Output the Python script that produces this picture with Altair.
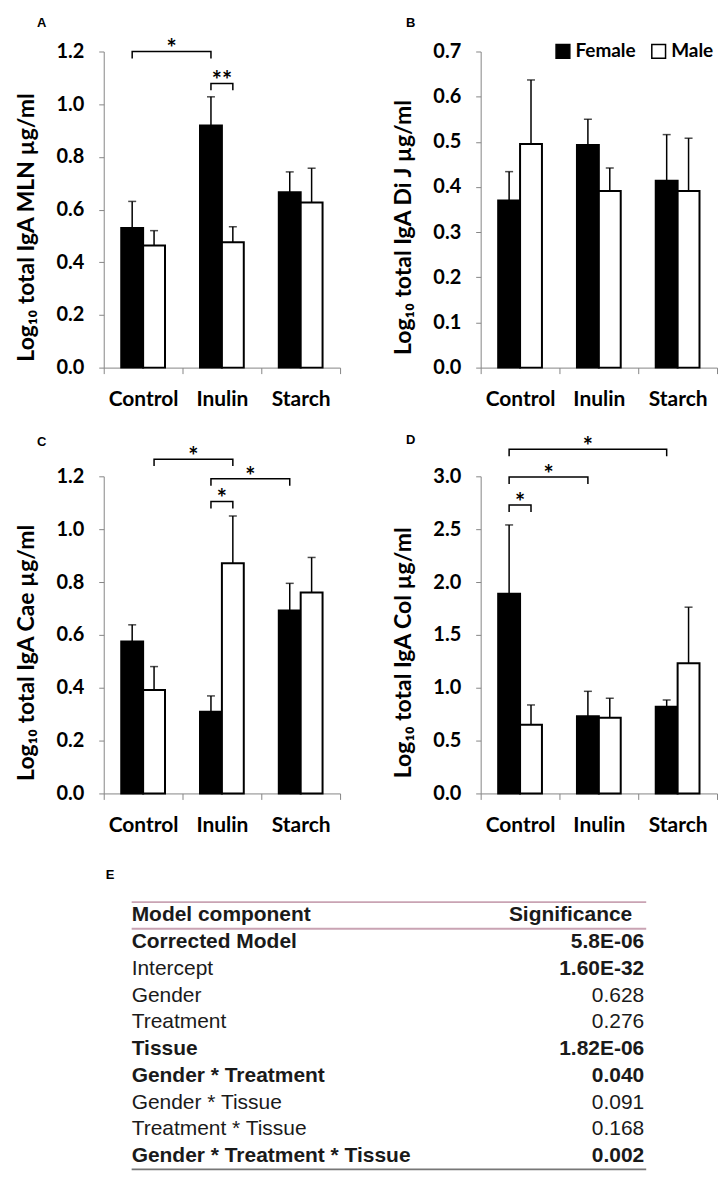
import altair as alt
import pandas as pd

# ---------------- data ----------------
treatments = ["Control", "Inulin", "Starch"]
sexes = ["Female", "Male"]

# Panel A: MLN
a_female = [0.530, 0.919, 0.666]
a_female_top = [0.631, 1.028, 0.743]
a_male = [0.464, 0.476, 0.627]
a_male_top = [0.520, 0.535, 0.757]
a_brackets = [("Control", "Female", "Inulin", "Female", 1.200, "*"),
              ("Inulin", "Female", "Inulin", "Male", 1.079, "**")]

# Panel B: Di J
b_female = [0.370, 0.493, 0.414]
b_female_top = [0.434, 0.550, 0.516]
b_male = [0.495, 0.391, 0.391]
b_male_top = [0.637, 0.442, 0.508]
b_brackets = []

# Panel C: Cae
c_female = [0.575, 0.309, 0.692]
c_female_top = [0.638, 0.369, 0.795]
c_male = [0.391, 0.871, 0.760]
c_male_top = [0.480, 1.050, 0.893]
c_brackets = [("Control", "Male", "Inulin", "Male", 1.265, "*"),
              ("Inulin", "Female", "Starch", "Female", 1.191, "*"),
              ("Inulin", "Female", "Inulin", "Male", 1.105, "*")]

# Panel D: Col
d_female = [1.890, 0.731, 0.821]
d_female_top = [2.540, 0.966, 0.884]
d_male = [0.649, 0.715, 1.232]
d_male_top = [0.837, 0.900, 1.762]
d_brackets = [("Control", "Female", "Control", "Male", 2.728, "*"),
              ("Control", "Female", "Inulin", "Female", 2.994, "*"),
              ("Control", "Female", "Starch", "Female", 3.255, "*")]

# Panel E: table
table_header = ["Model component", "Significance"]
table_rows = ["Corrected Model", "Intercept", "Gender", "Treatment", "Tissue",
              "Gender * Treatment", "Gender * Tissue", "Treatment * Tissue",
              "Gender * Treatment * Tissue"]
table_sig = ["5.8E-06", "1.60E-32", "0.628", "0.276", "1.82E-06",
             "0.040", "0.091", "0.168", "0.002"]
row_bold = [True, False, False, False, True, True, False, False, True]
sig_bold = [True, True, False, False, True, True, False, False, True]

# ---------------- style ----------------
FONT = "Lato"
PO = 0.8  # outer padding of the sex offset band scale
SEX_FRAC = {"Female": (PO + 0.5) / (2 + 2 * PO), "Male": (PO + 1.5) / (2 + 2 * PO)}
PW = 237
AXIS_GREY = "#868686"


def panel(letter, female, ftop, male, mtop, ymax, ystep, ytitle, brackets,
          title_dy, height, legend=False):
    rows = []
    for i, t in enumerate(treatments):
        rows.append({"treatment": t, "sex": "Female", "value": female[i], "top": ftop[i]})
        rows.append({"treatment": t, "sex": "Male", "value": male[i], "top": mtop[i]})
    df = pd.DataFrame(rows)
    base = alt.Chart(df)

    nvals = int(round(ymax / ystep)) + 1
    yvals = [round(k * ystep, 3) for k in range(nvals)]

    xenc = alt.X("treatment:N", sort=treatments,
                 scale=alt.Scale(paddingInner=0, paddingOuter=0),
                 axis=alt.Axis(title=None, tickBand="extent", labelAngle=0,
                               tickSize=6, labelFontSize=21, labelPadding=15))
    xplain = alt.X("treatment:N", sort=treatments)
    xoff = alt.XOffset("sex:N", sort=sexes,
                       scale=alt.Scale(paddingInner=0, paddingOuter=PO))
    xoff_plain = alt.XOffset("sex:N", sort=sexes)
    yscale = alt.Scale(domain=[0, ymax], nice=False, zero=True)
    yaxis = alt.Axis(values=yvals, format=".1f", title=ytitle,
                     titleY=height / 2 + 17.5,
                     tickSize=5, labelFontSize=20, labelPadding=15,
                     titleFontSize=23, titlePadding=17, grid=False)

    if legend:
        leg = alt.Legend(title=None, orient="none", legendX=73, legendY=-10,
                         direction="horizontal", symbolType="square",
                         symbolSize=190, symbolStrokeColor="black",
                         symbolStrokeWidth=1.5, labelFont=FONT, labelFontSize=19,
                         labelFontWeight="bold", labelColor="black",
                         columnPadding=12, labelOffset=3, padding=0,
                         symbolOpacity=1)
    else:
        leg = None

    bars = base.mark_bar(stroke="black", strokeWidth=2).encode(
        x=xenc, xOffset=xoff,
        y=alt.Y("value:Q", scale=yscale, axis=yaxis),
        fill=alt.Fill("sex:N", scale=alt.Scale(domain=sexes, range=["black", "white"]),
                      legend=leg),
    )
    err = base.mark_rule(color="black", strokeWidth=1.5).encode(
        x=xplain, xOffset=xoff_plain, y="value:Q", y2="top:Q")
    cap = base.mark_tick(color="black", thickness=1.5, size=8).encode(
        x=xplain, xOffset=xoff_plain, y="top:Q")

    layers = [bars, err, cap]
    if brackets:
        drop = ymax * 7.0 / height
        lrows = []
        for k, (t1, s1, t2, s2, lvl, lab) in enumerate(brackets):
            pts = [(t1, s1, lvl - drop), (t1, s1, lvl), (t2, s2, lvl), (t2, s2, lvl - drop)]
            for o, (tt, ss, yy) in enumerate(pts):
                lrows.append({"id": k, "ord": o, "treatment": tt, "sex": ss, "by": yy})
        blines = alt.Chart(pd.DataFrame(lrows)).mark_line(
            color="black", strokeWidth=1.5).encode(
            x=xplain, xOffset=xoff_plain, y=alt.Y("by:Q"),
            detail="id:N", order="ord:Q")
        layers.append(blines)
        # star label: centred between the two bracket ends
        for k, (t1, s1, t2, s2, lvl, lab) in enumerate(brackets):
            mid = (treatments.index(t1) + SEX_FRAC[s1] + treatments.index(t2) + SEX_FRAC[s2]) / 2
            tm = treatments[int(mid)]
            bpos = mid - int(mid)
            sdf = pd.DataFrame({"treatment": [tm], "by": [lvl], "lab": [lab]})
            star = alt.Chart(sdf).mark_text(
                font=FONT, fontSize=24, fontWeight="bold", color="black",
                baseline="alphabetic", dy=6).encode(
                x=alt.X("treatment:N", sort=treatments, bandPosition=bpos),
                y=alt.Y("by:Q"), text="lab:N")
            layers.append(star)

    ch = alt.layer(*layers)
    return ch.properties(
        width=PW, height=height,
        title=alt.TitleParams(letter, anchor="start", frame="group",
                              dx=-67 if letter in "AC" else -75, dy=title_dy,
                              font="Liberation Sans", fontSize=13,
                              fontWeight="bold", color="black"))


pA = panel("A", a_female, a_female_top, a_male, a_male_top, 1.2, 0.2,
           "Log₁₀ total IgA MLN µg/ml", a_brackets, -5, 317)
pB = panel("B", b_female, b_female_top, b_male, b_male_top, 0.7, 0.1,
           "Log₁₀ total IgA Di J µg/ml", b_brackets, -8, 317, legend=True)
pC = panel("C", c_female, c_female_top, c_male, c_male_top, 1.2, 0.2,
           "Log₁₀ total IgA Cae µg/ml", c_brackets, 7, 318)
pD = panel("D", d_female, d_female_top, d_male, d_male_top, 3.0, 0.5,
           "Log₁₀ total IgA Col µg/ml", d_brackets, 15, 318)

# ---------------- table ----------------
ydomain = [table_header[0]] + table_rows
trows = [{"row": table_header[0], "col": table_header[0], "text": table_header[0],
          "bold": True, "header": True},
         {"row": table_header[0], "col": table_header[1], "text": table_header[1],
          "bold": True, "header": True}]
for r, s, rb, sb in zip(table_rows, table_sig, row_bold, sig_bold):
    trows.append({"row": r, "col": table_header[0], "text": r, "bold": rb, "header": False})
    trows.append({"row": r, "col": table_header[1], "text": s, "bold": sb, "header": False})
tdf = pd.DataFrame(trows)
tbase = alt.Chart(tdf)
TW, TH = PW, 268
tyscale = alt.Scale(paddingInner=0, paddingOuter=0)
txscale = alt.Scale(type="point", domain=table_header, range=[28, 544], padding=0)
ty = alt.Y("row:N", sort=ydomain, axis=None, scale=tyscale)
tx = alt.X("col:N", axis=None, scale=txscale)
TXT = dict(font="Liberation Sans", fontSize=21, color="#1a1a1a", baseline="middle")

left_b = tbase.transform_filter("datum.col == 'Model component' && datum.bold").mark_text(
    align="left", fontWeight="bold", **TXT).encode(x=tx, y=ty, text="text:N")
left_r = tbase.transform_filter("datum.col == 'Model component' && !datum.bold").mark_text(
    align="left", fontWeight="normal", **TXT).encode(x=tx, y=ty, text="text:N")
right_b = tbase.transform_filter("datum.col == 'Significance' && datum.bold && !datum.header").mark_text(
    align="right", fontWeight="bold", dx=-2, **TXT).encode(x=tx, y=ty, text="text:N")
right_r = tbase.transform_filter("datum.col == 'Significance' && !datum.bold").mark_text(
    align="right", fontWeight="normal", dx=-2, **TXT).encode(x=tx, y=ty, text="text:N")
right_h = tbase.transform_filter("datum.col == 'Significance' && datum.header").mark_text(
    align="right", fontWeight="bold", dx=-14, **TXT).encode(x=tx, y=ty, text="text:N")

rule_df = pd.DataFrame({"row": [table_header[0], table_rows[0]],
                        "col": [table_header[0]] * 2, "c2": [table_header[1]] * 2})
top_rules = alt.Chart(rule_df).mark_rule(color="#c9a3b3", strokeWidth=2).encode(
    y=alt.Y("row:N", sort=ydomain, bandPosition=0, axis=None, scale=tyscale),
    x=tx, x2="c2:N")
bot_df = pd.DataFrame({"row": [table_rows[-1]], "col": [table_header[0]],
                       "c2": [table_header[1]]})
bot_rule = alt.Chart(bot_df).mark_rule(color="#777777", strokeWidth=2).encode(
    y=alt.Y("row:N", sort=ydomain, bandPosition=1, axis=None, scale=tyscale),
    x=tx, x2="c2:N")

table = alt.layer(left_b, left_r, right_b, right_r, right_h, top_rules, bot_rule).properties(
    width=TW, height=TH,
    title=alt.TitleParams("E", anchor="start", frame="group", dx=2, dy=-15,
                          font="Liberation Sans", fontSize=13, fontWeight="bold",
                          color="black"))

chart = alt.concat(pA, pB, pC, pD, table, columns=2,
                   spacing={"row": 109, "column": 141},
                   bounds="flush").resolve_legend(
    fill="independent").properties(
    padding={"left": 8, "top": 7, "right": 2, "bottom": 0},
    background="white",
).configure_view(stroke=None).configure_axis(
    labelFont=FONT, labelFontWeight="bold", labelColor="black",
    titleFont=FONT, titleFontWeight="bold", titleColor="black",
    domainColor=AXIS_GREY, tickColor=AXIS_GREY, domainWidth=1, tickWidth=1,
).configure_title(font="Liberation Sans")

chart.save("out.html", embed_options={"renderer": "svg", "actions": False})
